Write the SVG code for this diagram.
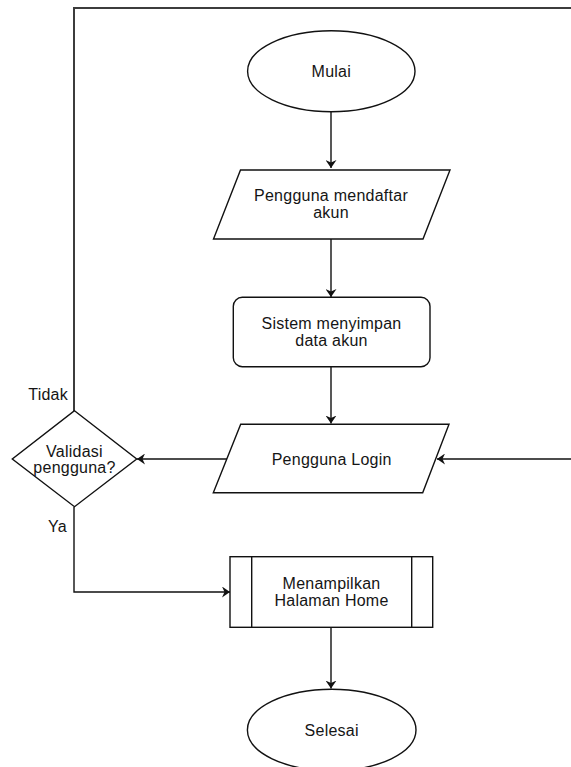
<svg xmlns="http://www.w3.org/2000/svg" width="571" height="767" viewBox="0 0 571 767">
<style>
.shape{fill:#fff;stroke:#111;stroke-width:1.4}
.lbl{font-family:"Liberation Sans",Arial,sans-serif;font-size:16px;letter-spacing:0.25px;fill:#151515;text-anchor:middle}
.edge{fill:none;stroke:#111;stroke-width:1.4}
.loop{fill:none;stroke:#3c3c3c;stroke-width:2}
</style>
<defs>
<marker id="arr" markerUnits="userSpaceOnUse" viewBox="0 0 8 11" markerWidth="8" markerHeight="11" refX="8" refY="5.5" orient="auto">
<path d="M0,0 L8,5.5 L0,11 L2.5,5.5 z" fill="#111"/>
</marker>
</defs>
<rect width="571" height="767" fill="#fff"/>
<g id="connectors">
<path class="edge" d="M331,112 L331,168" marker-end="url(#arr)"/>
<path class="edge" d="M331,239 L331,297" marker-end="url(#arr)"/>
<path class="edge" d="M331,367 L331,423.5" marker-end="url(#arr)"/>
<path class="edge" d="M227,459 L137,459" marker-end="url(#arr)"/>
<path class="edge" d="M571,459 L437,459" marker-end="url(#arr)"/>
<path class="loop" d="M74,411 L74,8 L571,8"/>
<path class="edge" d="M74,507 L74,592 L230,592" marker-end="url(#arr)"/>
<path class="edge" d="M331,627 L331,688.5" marker-end="url(#arr)"/>
<text class="lbl" x="68" y="399.5" style="text-anchor:end">Tidak</text>
<text class="lbl" x="67" y="531.5" style="text-anchor:end">Ya</text>
</g>
<g id="mulai">
<ellipse class="shape" cx="331.3" cy="71.2" rx="83.7" ry="40.5"/>
<text class="lbl" x="331.3" y="77.3">Mulai</text>
</g>
<g id="daftar">
<polygon class="shape" points="240.5,170 450,170 423,239 213.5,239"/>
<text class="lbl" x="331" y="200.5">Pengguna mendaftar</text>
<text class="lbl" x="331" y="217.5">akun</text>
</g>
<g id="simpan">
<rect class="shape" x="233.3" y="297.3" width="196.7" height="69.4" rx="9"/>
<text class="lbl" x="331.5" y="328.5">Sistem menyimpan</text>
<text class="lbl" x="331.5" y="345.5">data akun</text>
</g>
<g id="login">
<polygon class="shape" points="240.7,424.3 449,424.3 422.7,492.7 213.3,492.7"/>
<text class="lbl" x="331.7" y="465">Pengguna Login</text>
</g>
<g id="validasi">
<polygon class="shape" points="74.5,410.7 136.7,459 74.5,506.7 12.3,459"/>
<text class="lbl" x="74.5" y="456.5">Validasi</text>
<text class="lbl" x="74.5" y="473">pengguna?</text>
</g>
<g id="home">
<rect class="shape" x="230" y="556.7" width="202.7" height="70.6"/>
<line class="shape" x1="251.7" y1="556.7" x2="251.7" y2="627.3"/>
<line class="shape" x1="411.7" y1="556.7" x2="411.7" y2="627.3"/>
<text class="lbl" x="331.5" y="589">Menampilkan</text>
<text class="lbl" x="331.5" y="606">Halaman Home</text>
</g>
<g id="selesai">
<ellipse class="shape" cx="331.7" cy="730" rx="84.3" ry="40.7"/>
<text class="lbl" x="331.7" y="736">Selesai</text>
</g>
</svg>
